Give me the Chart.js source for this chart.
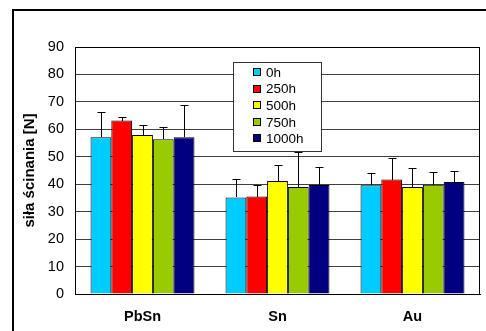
<!DOCTYPE html>
<html>
<head>
<meta charset="utf-8">
<script src="https://cdn.jsdelivr.net/npm/chart.js@4/dist/chart.umd.min.js"></script>
<style>
  html, body { margin: 0; padding: 0; background: #fff; }
  #wrap { position: relative; width: 486px; height: 331px; }
</style>
</head>
<body>
<div id="wrap"><canvas id="chart" width="486" height="331"></canvas></div>
<script>
// kategorie i serie
var categories = ['PbSn', 'Sn', 'Au'];
var seriesNames = ['0h', '250h', '500h', '750h', '1000h'];
var seriesColors = ['#00ccff', '#ff0000', '#ffff00', '#99cc00', '#000080'];

var v0h    = [57.1, 35.2, 39.6];
var v250h  = [63.2, 35.5, 41.7];
var v500h  = [57.9, 41.2, 39.0];
var v750h  = [56.4, 39.0, 39.8];
var v1000h = [57.1, 39.7, 40.8];

// odchylenia (tylko w gore)
var e0h    = [9.1, 6.8, 4.6];
var e250h  = [1.3, 4.1, 7.8];
var e500h  = [3.6, 5.7, 7.0];
var e750h  = [4.6, 12.6, 4.8];
var e1000h = [11.7, 6.5, 4.2];

var yTicks = [0, 10, 20, 30, 40, 50, 60, 70, 80, 90];

var values = [v0h, v250h, v500h, v750h, v1000h];
var errors = [e0h, e250h, e500h, e750h, e1000h];

var FONT = 'Arial, "Liberation Sans", sans-serif';

var datasets = seriesNames.map(function (name, i) {
  return {
    label: name,
    data: values[i],
    errors: errors[i],
    backgroundColor: seriesColors[i],
    borderColor: '#000',
    borderWidth: 1,
    borderSkipped: 'bottom'
  };
});

var errorBars = {
  id: 'errorBars',
  afterDatasetsDraw: function (chart) {
    var ctx = chart.ctx;
    var y = chart.scales.y;
    ctx.save();
    ctx.strokeStyle = '#000';
    ctx.lineWidth = 1;
    chart.data.datasets.forEach(function (ds, i) {
      var meta = chart.getDatasetMeta(i);
      meta.data.forEach(function (bar, j) {
        var top = y.getPixelForValue(ds.data[j] + ds.errors[j]);
        var x = Math.round(bar.x) + 0.5;
        var yt = Math.round(top) + 0.5;
        ctx.beginPath();
        ctx.moveTo(x, Math.round(bar.y));
        ctx.lineTo(x, yt);
        ctx.moveTo(x - 4, yt);
        ctx.lineTo(x + 4, yt);
        ctx.stroke();
      });
    });
    ctx.restore();
  }
};

var frameAndLegend = {
  id: 'frameAndLegend',
  afterDraw: function (chart) {
    var ctx = chart.ctx;
    var a = chart.chartArea;
    ctx.save();
    // ramka obszaru wykresu
    ctx.strokeStyle = '#000';
    ctx.lineWidth = 1;
    ctx.strokeRect(Math.round(a.left) + 0.5, Math.round(a.top) + 0.5,
      Math.round(a.right - a.left) - 1, Math.round(a.bottom - a.top));
    // zewnetrzna ramka (ucieta)
    ctx.lineWidth = 2;
    ctx.beginPath();
    ctx.moveTo(13, 331);
    ctx.lineTo(13, 10);
    ctx.lineTo(486, 10);
    ctx.stroke();

    // legenda
    var lx = 233, ly = 62, lw = 88, lh = 89;
    ctx.fillStyle = '#fff';
    ctx.fillRect(lx, ly, lw, lh);
    ctx.lineWidth = 1;
    ctx.strokeStyle = '#333';
    ctx.strokeRect(lx + 0.5, ly + 0.5, lw, lh);
    ctx.font = '13.5px ' + FONT;
    ctx.textBaseline = 'middle';
    chart.data.datasets.forEach(function (ds, i) {
      var cy = 72 + i * 16.6;
      ctx.fillStyle = ds.backgroundColor;
      ctx.fillRect(253, Math.round(cy - 4), 8, 8);
      ctx.strokeStyle = '#000';
      ctx.strokeRect(253.5, Math.round(cy - 4) + 0.5, 7, 7);
      ctx.fillStyle = '#000';
      ctx.fillText(ds.label, 266, cy + 1);
    });
    ctx.restore();
  }
};

new Chart(document.getElementById('chart').getContext('2d'), {
  type: 'bar',
  data: { labels: categories, datasets: datasets },
  plugins: [errorBars, frameAndLegend],
  options: {
    responsive: false,
    animation: false,
    layout: { padding: { left: 0, top: 47, right: 6, bottom: 0 } },
    datasets: { bar: { categoryPercentage: 0.77, barPercentage: 1.0 } },
    plugins: {
      legend: { display: false },
      tooltip: { enabled: false }
    },
    scales: {
      x: {
        grid: { display: false, drawTicks: false },
        border: { display: true, color: '#000' },
        ticks: {
          color: '#000',
          padding: 14,
          font: { family: FONT, size: 14.5, weight: 'bold' }
        },
        afterFit: function (s) { s.height = 37; }
      },
      y: {
        min: 0,
        max: 90,
        afterBuildTicks: function (s) {
          s.ticks = yTicks.map(function (v) { return { value: v }; });
        },
        grid: { color: '#404040', drawTicks: false },
        border: { display: true, color: '#000' },
        ticks: {
          color: '#000',
          padding: 11,
          font: { family: FONT, size: 14.5 }
        },
        title: {
          display: true,
          text: 'siła ścinania [N]',
          color: '#000',
          padding: { top: 21, bottom: 0 },
          font: { family: FONT, size: 15, weight: 'bold' }
        },
        afterFit: function (s) { s.width = 75; }
      }
    }
  }
});
</script>
</body>
</html>
